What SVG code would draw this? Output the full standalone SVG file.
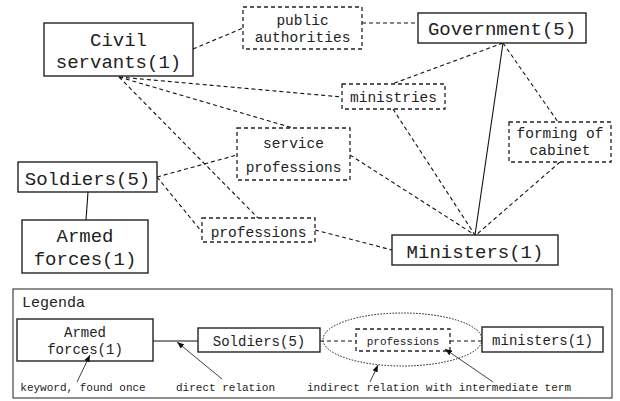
<svg xmlns="http://www.w3.org/2000/svg" width="620" height="401" viewBox="0 0 620 401">
<style>
.n{fill:#fff;stroke:#222;stroke-width:1.4}
.d{fill:#fff;stroke:#222;stroke-width:1.3;stroke-dasharray:4,3}
.t{font-family:"Liberation Mono",monospace;fill:#222;text-anchor:middle}
.L{font-size:19px}
.M{font-size:14.5px}
.S{font-size:14px}
.X{font-size:11px}
.c{stroke:#111;stroke-width:1.1;fill:none}
.cd{stroke:#111;stroke-width:1.1;fill:none;stroke-dasharray:4,3}
</style>
<defs>
<marker id="ah" viewBox="0 0 10 10" refX="10" refY="5" markerWidth="7" markerHeight="7" orient="auto-start-reverse" markerUnits="userSpaceOnUse">
<path d="M0,1 L10,5 L0,9 z" fill="#111"/>
</marker>
</defs>
<g id="connectors">
<line class="cd" x1="193" y1="49" x2="243" y2="28"/>
<line class="cd" x1="362" y1="23" x2="418" y2="23"/>
<line class="cd" x1="119" y1="77" x2="342" y2="97"/>
<line class="cd" x1="119" y1="77" x2="293" y2="128"/>
<line class="cd" x1="119" y1="77" x2="258" y2="218"/>
<line class="cd" x1="503" y1="43" x2="392" y2="84"/>
<line class="cd" x1="503" y1="43" x2="558" y2="122"/>
<line class="c" x1="503" y1="43" x2="475" y2="235"/>
<line class="cd" x1="393" y1="109" x2="475" y2="235"/>
<line class="cd" x1="350" y1="155" x2="475" y2="235"/>
<line class="cd" x1="560" y1="162" x2="476" y2="235"/>
<line class="cd" x1="315" y1="230" x2="392" y2="250"/>
<line class="cd" x1="157" y1="177" x2="237" y2="155"/>
<line class="cd" x1="157" y1="177" x2="202" y2="232"/>
<line class="c" x1="88" y1="192" x2="86" y2="220"/>
</g>
<g id="civil-servants"><rect class="n" x="44" y="23" width="149" height="53"/><text class="t L" x="118.5" y="46">Civil</text><text class="t L" x="118.5" y="68">servants(1)</text></g>
<g id="public-authorities"><rect class="d" x="243" y="7" width="119" height="42"/><text class="t M" x="302.5" y="25">public</text><text class="t M" x="302.5" y="42">authorities</text></g>
<g id="government"><rect class="n" x="418" y="13" width="168" height="30"/><text class="t L" x="502" y="35">Government(5)</text></g>
<g id="ministries"><rect class="d" x="342" y="84" width="103" height="25"/><text class="t M" x="393.5" y="102">ministries</text></g>
<g id="forming-of-cabinet"><rect class="d" x="509" y="122" width="102" height="40"/><text class="t M" x="560" y="138">forming of</text><text class="t M" x="560" y="155">cabinet</text></g>
<g id="service-professions"><rect class="d" x="237" y="128" width="113" height="52"/><text class="t M" x="293.5" y="148">service</text><text class="t M" x="293.5" y="172">professions</text></g>
<g id="soldiers"><rect class="n" x="18" y="162" width="139" height="30"/><text class="t L" x="87.5" y="185">Soldiers(5)</text></g>
<g id="armed-forces"><rect class="n" x="22" y="220" width="126" height="53"/><text class="t L" x="85" y="242">Armed</text><text class="t L" x="85" y="265">forces(1)</text></g>
<g id="professions"><rect class="d" x="202" y="218" width="113" height="24"/><text class="t M" x="258.5" y="237">professions</text></g>
<g id="ministers"><rect class="n" x="392" y="235" width="166" height="30"/><text class="t L" x="475" y="258">Ministers(1)</text></g>
<g id="legend">
<rect x="13" y="289" width="599" height="109" fill="#fff" stroke="#333" stroke-width="1.1"/>
<text class="t" x="22" y="307" style="font-size:15px;text-anchor:start">Legenda</text>
<ellipse cx="402.5" cy="339.5" rx="79.5" ry="26.5" fill="none" stroke="#111" stroke-width="1" stroke-dasharray="1.5,1.5"/>
<line class="c" x1="153" y1="341" x2="198" y2="341"/>
<line class="cd" x1="320" y1="341" x2="356" y2="341"/>
<line class="cd" x1="450" y1="341" x2="482" y2="341"/>
<rect class="n" x="17" y="319" width="136" height="42"/><text class="t S" x="85" y="337">Armed</text><text class="t S" x="85" y="354">forces(1)</text>
<rect class="n" x="198" y="328" width="122" height="24"/><text class="t S" x="259" y="346">Soldiers(5)</text>
<rect class="d" x="356" y="329" width="94" height="22"/><text class="t X" x="403" y="345">professions</text>
<rect class="n" x="482" y="327" width="121" height="25"/><text class="t S" x="542.5" y="345">ministers(1)</text>
<line x1="77" y1="382" x2="90" y2="355" stroke="#111" stroke-width="0.8" marker-end="url(#ah)"/>
<line x1="222" y1="379" x2="177" y2="342" stroke="#111" stroke-width="0.8" marker-end="url(#ah)"/>
<line x1="370" y1="382" x2="378" y2="365" stroke="#111" stroke-width="0.8" marker-end="url(#ah)"/>
<line x1="493" y1="382" x2="445" y2="349" stroke="#111" stroke-width="0.8" marker-end="url(#ah)"/>
<text class="t X" x="83" y="391">keyword, found once</text>
<text class="t X" x="225.5" y="391">direct relation</text>
<text class="t X" x="439" y="391">indirect relation with intermediate term</text>
</g>
</svg>
